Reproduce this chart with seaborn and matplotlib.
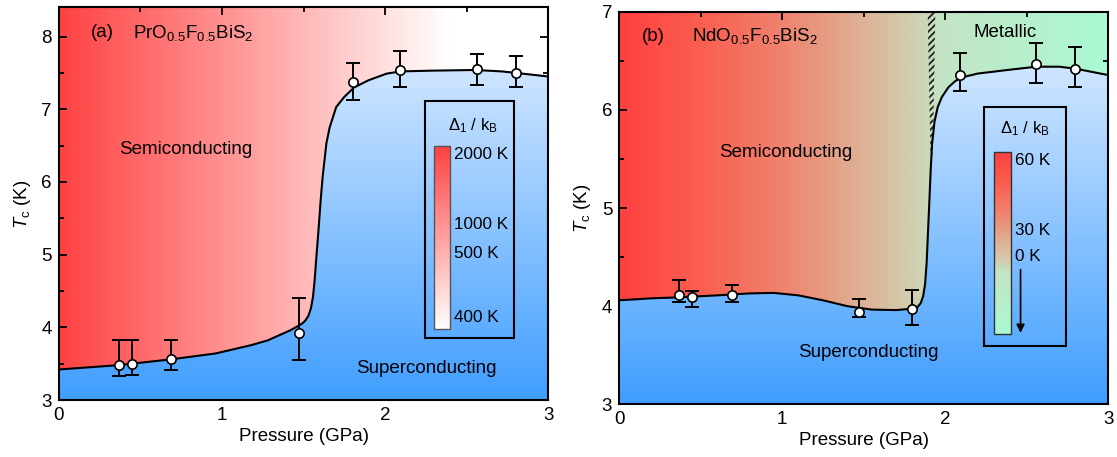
import numpy as np
import matplotlib
matplotlib.use("Agg")
import matplotlib.pyplot as plt
import seaborn as sns
from matplotlib.colors import LinearSegmentedColormap
from matplotlib.patches import Rectangle, Polygon

# ---------------- data: panel (a) PrO0.5F0.5BiS2 ----------------
a_pressure = [0.37, 0.45, 0.69, 1.47, 1.80, 2.09, 2.56, 2.80]
a_tc = [3.48, 3.50, 3.56, 3.92, 7.38, 7.54, 7.55, 7.50]
a_tc_low = [3.33, 3.35, 3.41, 3.55, 7.13, 7.31, 7.33, 7.30]
a_tc_high = [3.82, 3.83, 3.82, 4.41, 7.64, 7.80, 7.76, 7.73]
a_bound_p = [0.0, 0.37, 0.69, 0.96, 1.18, 1.28, 1.35, 1.42, 1.46, 1.49, 1.51, 1.53,
             1.545, 1.558, 1.568, 1.578, 1.59, 1.605, 1.617, 1.64, 1.66, 1.70,
             1.75, 1.81, 1.90, 2.01, 2.095, 2.275, 2.55, 2.715, 2.80, 3.0]
a_bound_t = [3.42, 3.48, 3.56, 3.64, 3.755, 3.82, 3.89, 3.96, 4.01, 4.05, 4.09, 4.16,
             4.26, 4.42, 4.65, 4.95, 5.29, 5.75, 6.07, 6.53, 6.75, 7.03,
             7.17, 7.30, 7.40, 7.49, 7.52, 7.53, 7.54, 7.52, 7.50, 7.45]
a_cbar_labels = ["2000 K", "1000 K", "500 K", "400 K"]

# ---------------- data: panel (b) NdO0.5F0.5BiS2 ----------------
b_pressure = [0.37, 0.45, 0.69, 1.47, 1.80, 2.09, 2.56, 2.80]
b_tc = [4.11, 4.09, 4.11, 3.94, 3.97, 6.355, 6.467, 6.416]
b_tc_low = [4.04, 3.995, 4.04, 3.89, 3.81, 6.195, 6.277, 6.23]
b_tc_high = [4.27, 4.15, 4.22, 4.07, 4.16, 6.575, 6.68, 6.64]
b_bound_p = [0.0, 0.2, 0.37, 0.6, 0.8, 0.95, 1.1, 1.25, 1.4, 1.55, 1.7, 1.80,
             1.83, 1.85, 1.865, 1.877, 1.887, 1.895, 1.903, 1.912, 1.92, 1.935,
             1.955, 1.98, 2.02, 2.06, 2.10, 2.2, 2.4, 2.56, 2.7, 2.8, 3.0]
b_bound_t = [4.06, 4.08, 4.09, 4.11, 4.13, 4.135, 4.11, 4.06, 4.00, 3.965, 3.96, 3.975,
             3.99, 4.03, 4.10, 4.22, 4.45, 4.75, 5.05, 5.40, 5.65, 5.88,
             6.03, 6.13, 6.23, 6.29, 6.33, 6.37, 6.41, 6.44, 6.44, 6.42, 6.355]
b_cbar_labels = ["60 K", "30 K", "0 K"]

# ---------------- style ----------------
sns.set_theme(style="ticks")
plt.rcParams["font.family"] = ["Liberation Sans", "DejaVu Sans"]
plt.rcParams["mathtext.fontset"] = "custom"
plt.rcParams["mathtext.rm"] = "Liberation Sans"
plt.rcParams["mathtext.it"] = "Liberation Sans:italic"
plt.rcParams["hatch.linewidth"] = 1.3
plt.rcParams["text.color"] = "black"
plt.rcParams["axes.labelcolor"] = "black"
plt.rcParams["xtick.color"] = "black"
plt.rcParams["ytick.color"] = "black"

FS = 13.5

def rgb(r, g, b):
    return (r / 255, g / 255, b / 255)

red_white = LinearSegmentedColormap.from_list(
    "rw", [(0.0, rgb(255, 66, 66)), (0.8, rgb(255, 255, 255)), (1.0, rgb(255, 255, 255))])
red_green = LinearSegmentedColormap.from_list(
    "rg", [(0.0, rgb(255, 64, 64)), (0.17, rgb(250, 95, 80)), (0.33, rgb(240, 130, 110)),
           (0.5, rgb(222, 178, 150)), (0.6, rgb(210, 205, 175)), (0.66, rgb(195, 228, 196)),
           (1.0, rgb(170, 250, 212))])
blue_map = LinearSegmentedColormap.from_list(
    "bl", [rgb(64, 158, 255), rgb(208, 230, 255)])

fig = plt.figure(figsize=(11.17, 4.57), dpi=100)
ax1 = fig.add_axes([0.0526, 0.1247, 0.4383, 0.859])
ax2 = fig.add_axes([0.5543, 0.1153, 0.4377, 0.859])


def panel(ax, p, tc, lo, hi, bp, bt, ylim, top_cmap, blue_top):
    y0, y1 = ylim
    grad = np.linspace(0, 1, 600)[None, :]
    ax.imshow(grad, extent=[0, 3, y0, y1], aspect="auto", cmap=top_cmap,
              origin="lower", interpolation="bilinear", zorder=0)
    vg = np.linspace(0, 1, 600)[:, None]
    im = ax.imshow(vg, extent=[0, 3, y0, blue_top], aspect="auto", cmap=blue_map,
                   origin="lower", interpolation="bilinear", zorder=1)
    poly = Polygon(list(zip(bp, bt)) + [(3, y0 - 1), (0, y0 - 1)], closed=True,
                   facecolor="none", edgecolor="none", transform=ax.transData)
    ax.add_patch(poly)
    im.set_clip_path(poly)

    sns.lineplot(x=bp, y=bt, ax=ax, color="black", lw=1.5, sort=False,
                 estimator=None, zorder=3)
    tc_a = np.array(tc)
    ax.errorbar(p, tc, yerr=[tc_a - np.array(lo), np.array(hi) - tc_a], fmt="none",
                ecolor="black", elinewidth=1.4, capsize=5, capthick=1.4, zorder=4)
    sns.scatterplot(x=p, y=tc, ax=ax, color="white", edgecolor="black", s=45,
                    linewidth=1.2, zorder=5)

    ax.set_xlim(0, 3)
    ax.set_ylim(y0, y1)
    ax.set_xticks([0, 1, 2, 3])
    ax.set_xticks(np.arange(0, 3.01, 0.5), minor=True)
    ax.set_yticks(np.arange(int(np.ceil(y0)), y1 + 0.01, 1))
    ax.set_yticks(np.arange(y0, y1 + 0.01, 0.5), minor=True)
    ax.tick_params(which="both", direction="in", top=True, right=True,
                   labelsize=FS, width=1.3, colors="black")
    ax.tick_params(which="major", length=6, pad=5)
    ax.tick_params(which="minor", length=3.5)
    for s in ax.spines.values():
        s.set_linewidth(1.5)
        s.set_color("black")
        s.set_zorder(10)
    ax.set_xlabel("Pressure (GPa)", fontsize=FS, labelpad=3)
    ax.set_ylabel(r"$T_\mathrm{c}$ (K)", fontsize=FS, labelpad=6)


panel(ax1, a_pressure, a_tc, a_tc_low, a_tc_high, a_bound_p, a_bound_t,
      (3, 8.4), red_white, 7.6)
panel(ax2, b_pressure, b_tc, b_tc_low, b_tc_high, b_bound_p, b_bound_t,
      (3, 7.0), red_green, 6.45)

# ---- panel (a) annotations ----
ax1.text(0.27, 8.05, "(a)", fontsize=FS, ha="center", va="center", zorder=6)
ax1.text(0.457, 8.05, r"PrO$_{0.5}$F$_{0.5}$BiS$_2$", fontsize=FS, ha="left",
         va="center", zorder=6)
ax1.text(0.78, 6.45, "Semiconducting", fontsize=FS, ha="center", va="center", zorder=6)
ax1.text(2.25, 3.43, "Superconducting", fontsize=FS, ha="center", va="center", zorder=6)
ax1.add_patch(Rectangle((2.245, 3.85), 0.545, 3.26, fill=False, edgecolor="black",
                        lw=1.5, zorder=6))
ax1.imshow(np.linspace(0, 0.8, 300)[:, None], extent=[2.30, 2.40, 3.98, 6.49],
           aspect="auto", cmap=red_white, vmin=0, vmax=1, origin="upper", zorder=6)
ax1.add_patch(Rectangle((2.30, 3.98), 0.10, 2.51, fill=False, edgecolor="#555555",
                        lw=1.0, zorder=7))
ax1.text(2.54, 6.78, r"$\Delta_1$ / k$_\mathrm{B}$", fontsize=12, ha="center",
         va="center", zorder=7)
for lab, yy in zip(a_cbar_labels, [6.38, 5.42, 5.02, 4.13]):
    ax1.text(2.425, yy, lab, fontsize=12.3, ha="left", va="center", zorder=7)
ax1.set_xlim(0, 3)
ax1.set_ylim(3, 8.4)

# ---- panel (b) annotations ----
ax2.add_patch(Polygon([(1.893, 7.0), (1.94, 7.0), (1.925, 5.55), (1.91, 5.55)],
                      closed=True, fill=False, hatch="/////", edgecolor="#222222",
                      linewidth=0, zorder=2))
ax2.text(0.21, 6.75, "(b)", fontsize=FS, ha="center", va="center", zorder=6)
ax2.text(0.444, 6.75, r"NdO$_{0.5}$F$_{0.5}$BiS$_2$", fontsize=FS, ha="left",
         va="center", zorder=6)
ax2.text(2.37, 6.79, "Metallic", fontsize=FS, ha="center", va="center", zorder=6)
ax2.text(1.02, 5.57, "Semiconducting", fontsize=FS, ha="center", va="center", zorder=6)
ax2.text(1.53, 3.53, "Superconducting", fontsize=FS, ha="center", va="center", zorder=6)
ax2.add_patch(Rectangle((2.241, 3.594), 0.499, 2.436, fill=False, edgecolor="black",
                        lw=1.5, zorder=6))
ax2.imshow(np.linspace(0, 1, 300)[:, None], extent=[2.30, 2.406, 3.713, 5.567],
           aspect="auto", cmap=red_green, vmin=0, vmax=1, origin="upper", zorder=6)
ax2.add_patch(Rectangle((2.30, 3.713), 0.106, 1.854, fill=False, edgecolor="#333333",
                        lw=1.0, zorder=7))
ax2.text(2.49, 5.81, r"$\Delta_1$ / k$_\mathrm{B}$", fontsize=12, ha="center",
         va="center", zorder=7)
for lab, yy in zip(b_cbar_labels, [5.48, 4.776, 4.504]):
    ax2.text(2.43, yy, lab, fontsize=12.3, ha="left", va="center", zorder=7)
ax2.annotate("", xy=(2.463, 3.70), xytext=(2.463, 4.40),
             arrowprops=dict(arrowstyle="-|>", color="black", lw=1.2,
                             mutation_scale=12), zorder=7)
ax2.set_xlim(0, 3)
ax2.set_ylim(3, 7)

fig.savefig("out.png", dpi=100)
